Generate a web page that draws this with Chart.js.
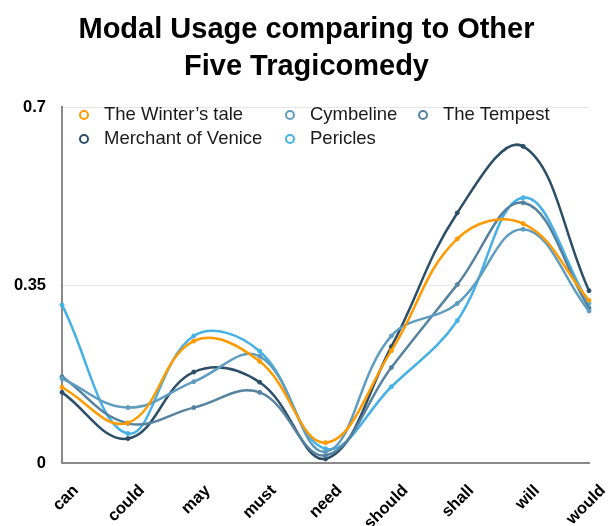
<!DOCTYPE html>
<html>
<head>
<meta charset="utf-8">
<script src="https://cdn.jsdelivr.net/npm/chart.js@4"></script>
<style>
  html, body { margin: 0; padding: 0; background: #fff; }
  #wrap { position: relative; width: 613px; height: 526px; }
  canvas { position: absolute; left: 0; top: 0; }
  .lg { position: absolute; font-family: 'Liberation Sans', Arial, Helvetica, sans-serif; font-size: 18.5px; color: #1a1a1a; white-space: nowrap; line-height: 1; }
  .lg i { position: absolute; width: 6px; height: 6px; border-radius: 50%; border: 2.5px solid; box-sizing: content-box; }
</style>
</head>
<body>
<div id="wrap"><canvas id="c" width="613" height="526"></canvas></div>
<script>
const categories = ['can', 'could', 'may', 'must', 'need', 'should', 'shall', 'will', 'would'];
const seriesNames = ['The Winter\u2019s tale', 'Cymbeline', 'The Tempest', 'Merchant of Venice', 'Pericles'];
const winterTale = [0.149, 0.079, 0.240, 0.200, 0.040, 0.221, 0.441, 0.471, 0.320];
const cymbeline  = [0.166, 0.109, 0.160, 0.210, 0.022, 0.250, 0.314, 0.460, 0.299];
const tempest    = [0.170, 0.078, 0.109, 0.139, 0.015, 0.188, 0.351, 0.512, 0.305];
const merchant   = [0.139, 0.048, 0.179, 0.159, 0.008, 0.229, 0.492, 0.623, 0.339];
const pericles   = [0.311, 0.058, 0.250, 0.220, 0.028, 0.150, 0.280, 0.522, 0.314];
const yTicks = [0, 0.35, 0.7];
const seriesColors = ['#ff9a00', '#5e9cc0', '#55829f', '#2c4f67', '#45b1e6'];

const FONT = "'Liberation Sans', Arial, Helvetica, sans-serif";
const allSeries = [winterTale, cymbeline, tempest, merchant, pericles];

const datasets = allSeries.map((vals, i) => ({
  label: seriesNames[i],
  data: vals,
  borderColor: seriesColors[i],
  backgroundColor: seriesColors[i],
  borderWidth: 2.5,
  pointRadius: 2,
  pointBorderWidth: 1,
  tension: 0.4,
  fill: false,
  clip: false
}));

new Chart(document.getElementById('c'), {
  type: 'line',
  data: { labels: categories, datasets },
  options: {
    responsive: false,
    animation: false,
    layout: { padding: 0 },
    plugins: {
      legend: { display: false },
      tooltip: { enabled: false },
      title: {
        display: true,
        text: ['Modal Usage comparing to Other', 'Five Tragicomedy'],
        color: '#000',
        font: { family: FONT, size: 29, weight: 'bold', lineHeight: 1.28 },
        padding: { top: 11, bottom: 22 }
      }
    },
    scales: {
      x: {
        offset: false,
        grid: { display: false, drawTicks: false },
        border: { display: true, color: '#8a8a8a', width: 2 },
        ticks: {
          autoSkip: false, maxRotation: 45, minRotation: 45,
          color: '#000', padding: 18, labelOffset: 14,
          font: { family: FONT, size: 16.5, weight: 'bold' }
        },
        afterFit: s => { s.height = 63; s.paddingLeft = 0; s.paddingRight = 24; }
      },
      y: {
        min: 0, max: 0.7,
        afterBuildTicks: s => { s.ticks = yTicks.map(v => ({ value: v })); },
        grid: { color: '#e6e6e6', lineWidth: 1, drawTicks: false },
        border: { display: true, color: '#8a8a8a', width: 2 },
        ticks: {
          color: '#000', padding: 16,
          font: { family: FONT, size: 16.5, weight: 'bold' },
          callback: v => String(v)
        },
        afterFit: s => { s.width = 62; }
      }
    }
  }
});

// HTML legend, laid out in columns as in the reference
const wrap = document.getElementById('wrap');
const legendSlots = [[84, 115], [290, 115], [423, 115], [84, 139], [290, 139]];
seriesNames.forEach((name, i) => {
  const d = document.createElement('div');
  d.className = 'lg';
  d.style.left = (legendSlots[i][0] + 20) + 'px';
  d.style.top = (legendSlots[i][1] - 10) + 'px';
  d.textContent = name;
  const ic = document.createElement('i');
  ic.style.borderColor = seriesColors[i];
  ic.style.left = '-25.5px';
  ic.style.top = '4.5px';
  d.appendChild(ic);
  wrap.appendChild(d);
});
</script>
</body>
</html>
